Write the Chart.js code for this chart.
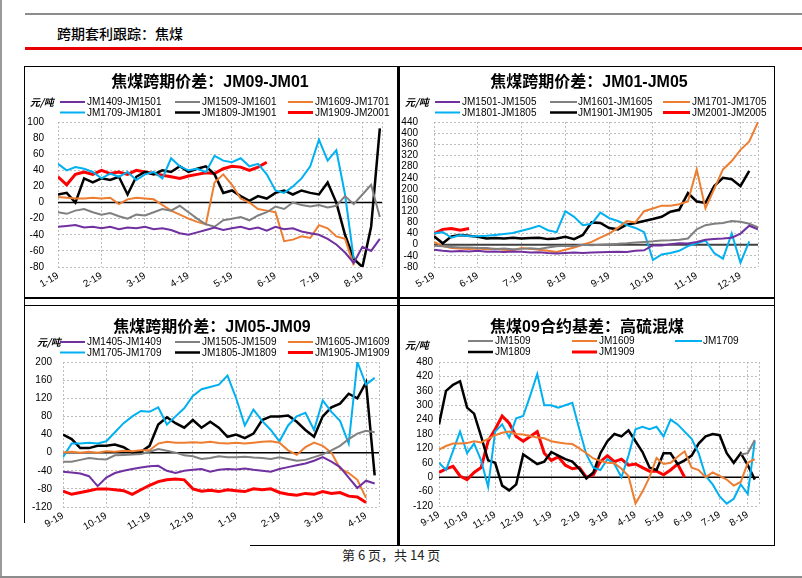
<!DOCTYPE html>
<html>
<head>
<meta charset="utf-8">
<script src="https://cdn.jsdelivr.net/npm/chart.js@4.4.1/dist/chart.umd.min.js"></script>
<style>
  body { margin: 0; width: 802px; height: 578px; position: relative; background: #fff; overflow: hidden; font-family: "Noto Sans CJK SC", sans-serif; }
  .ln { position: absolute; background: #000; }
  canvas { position: absolute; }
  .txt { position: absolute; white-space: nowrap; color: #000; }
</style>
</head>
<body>
<!-- page furniture -->
<div class="ln" style="left:0;top:0;width:2px;height:578px;background:#9a9a9a"></div>
<div class="ln" style="left:25px;top:13px;width:777px;height:2px;background:#8c8c8c"></div>
<div class="txt" style="left:57px;top:23px;font-size:14px;font-weight:500">跨期套利跟踪：焦煤</div>
<div class="ln" style="left:25px;top:47px;width:777px;height:3px;background:#e60000"></div>

<div class="ln" style="left:24px;top:66px;width:751px;height:1px"></div>
<div class="ln" style="left:24px;top:297px;width:751px;height:2px"></div>
<div class="ln" style="left:24px;top:305px;width:751px;height:1px"></div>
<div class="ln" style="left:24px;top:66px;width:1px;height:457px"></div>
<div class="ln" style="left:397px;top:66px;width:3px;height:480px"></div>
<div class="ln" style="left:774px;top:66px;width:1px;height:480px"></div>
<div class="ln" style="left:250px;top:545px;width:525px;height:1px"></div>

<canvas id="c1" width="372" height="231" style="left:25px;top:67px"></canvas>
<canvas id="c2" width="374" height="231" style="left:400px;top:67px"></canvas>
<canvas id="c3" width="372" height="239" style="left:25px;top:306px"></canvas>
<canvas id="c4" width="374" height="239" style="left:400px;top:306px"></canvas>

<div class="txt" style="left:342px;top:545px;font-size:13px;color:#222">第 6 页，共 14 页</div>
<div class="ln" style="left:0;top:576px;width:802px;height:2px;background:#8c8c8c"></div>

<script>
// ---------- data ----------
// panel 1: JM09-JM01, one point every 0.2 month
const p1Months = ["1-19", "2-19", "3-19", "4-19", "5-19", "6-19", "7-19", "8-19"];
const jm09_1409 = [-30, -29, -28, -31, -30, -32, -30, -33, -31, -32, -30, -33, -32, -34, -38, -40, -37, -34, -31, -34,
  -32, -30, -33, -31, -35, -30, -33, -32, -36, -38, -40, -45, -52, -62, -75, -55, -60, -45];
const jm09_1509 = [-12, -14, -10, -8, -12, -15, -13, -17, -20, -15, -16, -12, -8, -10, -4, -12, -20, -27, -30, -22,
  -20, -18, -22, -16, -12, -5, -8, 0, -3, -5, -3, -6, -4, 8, -2, 10, 22, -18];
const jm09_1609 = [7, 6, 5, 5, 6, 5, 6, -2, 4, 6, 5, 4, -3, -10, -15, -20, -24, -27, 25, 35,
  22, 5, 0, -8, -10, -12, -48, -46, -42, -44, -28, -32, -42, -45, -78];
const jm09_1709 = [48, 40, 44, 42, 38, 30, 36, 32, 38, 28, 35, 38, 30, 55, 45, 40, 42, 38, 58, 52,
  50, 55, 45, 48, 35, 15, 12, 20, 30, 45, 78, 52, 65, 10, -70];
const jm09_1809 = [10, 12, 0, 30, 25, 30, 28, 32, 10, 32, 38, 35, 40, 38, 45, 38, 42, 45, 35, 12,
  15, 8, 2, 8, 5, 12, 15, 10, 15, 12, 10, 25, 0, -40, -70, -80, -30, 92];
const jm09_1909 = [32, 22, 35, 38, 35, 40, 36, 38, 35, 40, 38, 36, 34, 32, 30, 33, 35, 37, 36, 42,
  45, 44, 40, 44, 50];

// panel 2: JM01-JM05, one point every 0.2 month
const p2Months = ["5-19", "6-19", "7-19", "8-19", "9-19", "10-19", "11-19", "12-19"];
const jm01_1501 = [-18, -22, -24, -23, -24, -22, -25, -24, -26, -24, -25, -28, -27, -30, -32, -30, -28, -30, -28, -27,
  -26, -25, -26, -22, -20, -2, -3, 2, 5, 4, 10, 18, 20, 22, 25, 40, 68, 55];
const jm01_1601 = [-4, -6, -8, -10, -10, -12, -12, -15, -14, -16, -15, -13, -15, -10, -6, -4, -5, 0, -2, 0,
  2, 3, 5, 8, 10, 12, 15, 16, 18, 22, 55, 70, 75, 78, 85, 82, 75, 62];
const jm01_1701 = [10, -5, -12, -14, -15, -14, -16, -15, -18, -20, -12, -15, -18, -22, -26, -18, -10, 0, 10, 25,
  40, 60, 85, 80, 120, 130, 140, 140, 145, 155, 270, 130, 200, 270, 300, 340, 370, 440];
const jm01_1801 = [40, 45, 25, 35, 30, 30, 32, 35, 38, 42, 50, 58, 68, 52, 45, 120, 100, 70, 75, 115,
  95, 85, 70, 60, 45, -55, -35, -30, -22, -5, 5, 15, -30, -50, 40, -65, 12];
const jm01_1901 = [30, 5, 30, 35, 32, 28, 22, 24, 22, 25, 22, 24, 25, 20, 22, 28, 20, 35, 80, 78,
  60, 55, 72, 78, 85, 92, 100, 118, 125, 185, 155, 150, 210, 240, 235, 210, 265];
const jm01_2001 = [40, 55, 58, 52, 58];

// panel 3: JM05-JM09, one point every 0.2 month
const p3Months = ["9-19", "10-19", "11-19", "12-19", "1-19", "2-19", "3-19", "4-19"];
const jm05_1405 = [-42, -44, -46, -52, -74, -55, -45, -40, -36, -33, -30, -29, -40, -45, -40, -38, -36, -42, -38, -36,
  -37, -35, -38, -40, -42, -36, -32, -28, -24, -18, -10, -20, -32, -55, -78, -62, -68];
const jm05_1505 = [-20, -20, -16, -12, -14, -15, -6, -5, -4, -3, 2, 8, 4, 0, -6, -8, -14, -12, -8, -10,
  -10, -9, -11, -12, -14, -10, -14, -18, -16, -10, -4, 5, 15, 30, 42, 48, 45];
const jm05_1605 = [0, 2, 0, 2, 0, 3, 2, 4, 3, 5, 5, 20, 24, 22, 22, 23, 22, 24, 21, 20,
  22, 20, 22, 24, 25, 22, 5, -5, 12, 22, 15, 0, -35, -45, -60, -100];
const jm05_1705 = [-10, 20, 20, 22, 20, 25, 45, 65, 80, 92, 90, 100, 62, 80, 98, 125, 140, 145, 150, 170,
  120, 60, 95, 70, 50, 25, 60, 80, 88, 50, 115, 90, 70, 20, 200, 150, 165];
const jm05_1805 = [40, 30, 10, 10, 15, 15, 18, 12, 0, 2, 15, 62, 78, 65, 55, 72, 55, 68, 55, 35,
  40, 32, 42, 72, 80, 80, 82, 68, 50, 35, 80, 100, 108, 130, 120, 155, -50];
const jm05_1905 = [-85, -92, -88, -84, -80, -80, -82, -84, -92, -82, -72, -64, -60, -58, -60, -80, -85, -83, -86, -82,
  -84, -86, -80, -82, -80, -88, -92, -94, -90, -92, -86, -90, -88, -96, -98, -110];

// panel 4: JM09 basis vs high-sulphur blend, one point every 0.25 month
const p4Months = ["9-19", "10-19", "11-19", "12-19", "1-19", "2-19", "3-19", "4-19", "5-19", "6-19", "7-19", "8-19"];
const jc1509Start = 43;
const jc1509 = [95, 100, 155];
const jc1609 = [115, 130, 140, 140, 142, 150, 145, 160, 175, 185, 190, 180, 178, 172, 165, 162, 150, 145, 140, 138,
  120, 100, 78, 68, 60, 58, 35, 5, -110, -60, 0, 80, 55, 60, 85, 108, 40, 30, 0, 20, 5, -10, -35, -20, 60, 75];
const jc1709 = [60, 30, 110, 190, 100, 140, 70, -40, 190, 220, 165, 245, 255, 340, 430, 300, 300, 290, 300, 310,
  200, 95, 40, 30, 75, 55, 0, 90, 200, 210, 200, 210, 170, 240, 220, 190, 160, 100, 5, -30, -80, -110, -90, -30, -70, 150];
const jc1809 = [220, 360, 385, 400, 290, 265, 170, 70, 60, -35, -55, -30, 95, 75, 55, 65, 105, 90, 75, 65,
  35, -5, 20, 100, 150, 180, 170, 195, 150, 105, 40, 30, 100, 100, 55, 70, 90, 140, 170, 180, 175, 100, 60, 100, 50, -10];
const jc1909 = [20, 35, 45, 5, -10, 20, 40, 150, 200, 255, 225, 170, 150, 170, 190, 100, 70, 85, 50, 35,
  40, 0, 10, 65, 90, 65, 75, 50, 55, 40, 25, 25, 10, 30, 55, 0];

// ---------- styling ----------
const PURPLE = "#7030A0", GRAY = "#808080", ORANGE = "#ED7D31", BLUE = "#00B0F0", BLACK = "#000000", RED = "#FF0000";

function line(label, values, color, width, step, start) {
  start = start || 0;
  return {
    label: label,
    data: values.map((v, i) => ({ x: (start + i) * step, y: v })),
    borderColor: color,
    backgroundColor: color,
    borderWidth: width,
    pointRadius: 0,
    tension: 0,
    fill: false,
  };
}

// zero line, title, legend and unit for each panel
const panelText = {
  id: "panelText",
  beforeDatasetsDraw(chart, args, o) {
    const y = chart.scales.y.getPixelForValue(0);
    const ctx = chart.ctx;
    ctx.save();
    ctx.strokeStyle = o.zeroColor || "#000";
    ctx.lineWidth = o.zeroWidth || 1.5;
    ctx.beginPath();
    ctx.moveTo(chart.chartArea.left, y);
    ctx.lineTo(chart.chartArea.right, y);
    ctx.stroke();
    ctx.restore();
  },
  afterDraw(chart, args, o) {
    const ctx = chart.ctx;
    ctx.save();
    ctx.fillStyle = "#000";
    ctx.textBaseline = "middle";
    ctx.textAlign = "center";
    ctx.font = 'bold 16px "Liberation Sans", "Noto Sans CJK SC"';
    ctx.fillText(o.title, o.titleX, o.titleY);

    ctx.textAlign = "left";
    ctx.font = 'italic bold 10px "Noto Sans CJK SC"';
    ctx.fillText("元/吨", o.unitX, o.unitY);

    ctx.font = '10px "Liberation Sans"';
    chart.data.datasets.forEach((ds, i) => {
      const col = o.cols[i % 3];
      const y = o.rows[Math.floor(i / 3)];
      ctx.strokeStyle = ds.borderColor;
      ctx.lineWidth = Math.max(2, ds.borderWidth);
      ctx.beginPath();
      ctx.moveTo(col[0], y);
      ctx.lineTo(col[1], y);
      ctx.stroke();
      ctx.fillText(ds.label, col[2], y + 0.5);
    });
    ctx.restore();
  },
};

function makeChart(id, cfg) {
  return new Chart(document.getElementById(id), {
    type: "line",
    data: { datasets: cfg.datasets },
    options: {
      responsive: false,
      animation: false,
      layout: { padding: { top: cfg.padTop, right: cfg.padRight, left: 0, bottom: 0 } },
      plugins: { legend: { display: false }, tooltip: { enabled: false }, panelText: cfg.text },
      scales: {
        x: {
          type: "linear",
          min: 0,
          max: cfg.xMax,
          afterBuildTicks: (s) => {
            s.ticks = cfg.months.map((m, i) => ({ value: i })).concat([{ value: cfg.xMax }]);
          },
          afterFit: (s) => { s.height = cfg.xH; },
          ticks: {
            autoSkip: false,
            minRotation: 30,
            maxRotation: 30,
            padding: 3,
            color: "#000",
            font: { size: 10, family: "Liberation Sans" },
            callback: (v, i) => cfg.months[i] || "",
          },
          grid: { color: "#bdbdbd", drawTicks: false, lineWidth: 1 },
          border: { display: false, dash: [2, 2] },
        },
        y: {
          min: cfg.yMin,
          max: cfg.yMax,
          afterFit: (s) => { s.width = cfg.yW; },
          ticks: {
            autoSkip: false,
            stepSize: cfg.yStep,
            padding: cfg.yPad,
            color: "#000",
            font: { size: 10, family: "Liberation Sans" },
          },
          grid: { color: "#bdbdbd", drawTicks: false, lineWidth: 1 },
          border: { display: false, dash: [2, 2] },
        },
      },
    },
    plugins: [panelText],
  });
}

const legendCols = [[35, 60, 62], [150, 175, 177], [263, 288, 290]];

makeChart("c1", {
  months: p1Months, xMax: 7.45, yMin: -80, yMax: 100, yStep: 20,
  padTop: 55, padRight: 15, yW: 33, yPad: 14, xH: 31,
  text: { title: "焦煤跨期价差：JM09-JM01", titleX: 185, titleY: 16, unitX: 5, unitY: 35,
    cols: legendCols, rows: [35, 45.5] },
  datasets: [
    line("JM1409-JM1501", jm09_1409, PURPLE, 2, 0.2),
    line("JM1509-JM1601", jm09_1509, GRAY, 2, 0.2),
    line("JM1609-JM1701", jm09_1609, ORANGE, 2, 0.2),
    line("JM1709-JM1801", jm09_1709, BLUE, 2, 0.2),
    line("JM1809-JM1901", jm09_1809, BLACK, 2.5, 0.2),
    line("JM1909-JM2001", jm09_1909, RED, 3, 0.2),
  ],
});

makeChart("c2", {
  months: p2Months, xMax: 7.4, yMin: -80, yMax: 440, yStep: 40,
  padTop: 55, padRight: 16, yW: 34, yPad: 16, xH: 31,
  text: { title: "焦煤跨期价差：JM01-JM05", titleX: 189, titleY: 16, unitX: 5, unitY: 35,
    cols: [[35, 60, 62], [150, 177, 178], [263, 290, 292]], rows: [35, 45.5], zeroColor: "#404040", zeroWidth: 2 },
  datasets: [
    line("JM1501-JM1505", jm01_1501, PURPLE, 2, 0.2),
    line("JM1601-JM1605", jm01_1601, GRAY, 2, 0.2),
    line("JM1701-JM1705", jm01_1701, ORANGE, 2, 0.2),
    line("JM1801-JM1805", jm01_1801, BLUE, 2, 0.2),
    line("JM1901-JM1905", jm01_1901, BLACK, 2.5, 0.2),
    line("JM2001-JM2005", jm01_2001, RED, 3, 0.2),
  ],
});

makeChart("c3", {
  months: p3Months, xMax: 7.3, yMin: -120, yMax: 200, yStep: 40,
  padTop: 56, padRight: 18, yW: 38, yPad: 11, xH: 38,
  text: { title: "焦煤跨期价差：JM05-JM09", titleX: 187, titleY: 22, unitX: 12, unitY: 36,
    cols: legendCols, rows: [36, 46.5] },
  datasets: [
    line("JM1405-JM1409", jm05_1405, PURPLE, 2, 0.2),
    line("JM1505-JM1509", jm05_1505, GRAY, 2, 0.2),
    line("JM1605-JM1609", jm05_1605, ORANGE, 2, 0.2),
    line("JM1705-JM1709", jm05_1705, BLUE, 2, 0.2),
    line("JM1805-JM1809", jm05_1805, BLACK, 2.5, 0.2),
    line("JM1905-JM1909", jm05_1905, RED, 3, 0.2),
  ],
});

makeChart("c4", {
  months: p4Months, xMax: 11.4, yMin: -120, yMax: 480, yStep: 60,
  padTop: 56, padRight: 15, yW: 39, yPad: 6, xH: 39,
  text: { title: "焦煤09合约基差：高硫混煤", titleX: 187, titleY: 22, unitX: 5, unitY: 39,
    cols: [[68, 93, 95], [172, 197, 199], [275, 302, 303]], rows: [35, 46] },
  datasets: [
    line("JM1509", jc1509, GRAY, 2, 0.25, jc1509Start),
    line("JM1609", jc1609, ORANGE, 2, 0.25),
    line("JM1709", jc1709, BLUE, 2, 0.25),
    line("JM1809", jc1809, BLACK, 2.5, 0.25),
    line("JM1909", jc1909, RED, 3, 0.25),
  ],
});
</script>
</body>
</html>
